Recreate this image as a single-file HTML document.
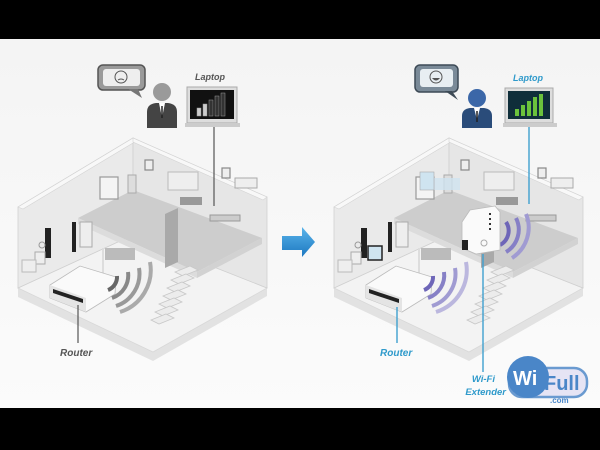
<!DOCTYPE html>
<html><head><meta charset="utf-8"><style>
html,body{margin:0;padding:0;background:#000;}
svg{display:block;}
text{font-family:"Liberation Sans",sans-serif;font-weight:bold;font-style:italic;}
text.n{font-style:normal;}
</style></head><body>
<svg width="600" height="450" viewBox="0 0 600 450" xmlns="http://www.w3.org/2000/svg">
<defs>
<linearGradient id="bg" x1="0" y1="0" x2="0" y2="1"><stop offset="0" stop-color="#f4f4f4"/><stop offset="1" stop-color="#fbfbfb"/></linearGradient>
<linearGradient id="arr" x1="0" y1="0" x2="0" y2="1"><stop offset="0" stop-color="#5ab4ea"/><stop offset="1" stop-color="#1d78c1"/></linearGradient>
<g id="house">
  <polygon points="18,288 153,352 267,288 267,296 153,361 18,297" fill="#e2e2e2"/>
  <polygon points="18,288 133,235 267,288 153,352" fill="#f3f3f3" stroke="#d8d8d8" stroke-width="0.8"/>
  <polygon points="18,207 133,138 133,235 18,288" fill="#eaeaea" stroke="#d0d0d0" stroke-width="0.8"/>
  <polygon points="133,138 267,197 267,288 133,235" fill="#e6e6e6" stroke="#d0d0d0" stroke-width="0.8"/>
  <polygon points="18,207 133,138 138,140 23,209" fill="#f8f8f8" stroke="#d4d4d4" stroke-width="0.6"/>
  <polygon points="133,138 267,197 263,200 133,142" fill="#f8f8f8" stroke="#d4d4d4" stroke-width="0.6"/>
  <polygon points="78,218 133,190 262,238 197,272" fill="#cdcdcd"/>
  <polygon points="78,218 197,272 197,278 78,224" fill="#dcdcdc"/>
  <polygon points="197,272 262,238 262,244 197,278" fill="#d2d2d2"/>
  <polygon points="165,214 178,208 178,262 165,268" fill="#a9a9a9"/>
  <rect x="100" y="177" width="18" height="22" fill="#f4f4f4" stroke="#999" stroke-width="1.2"/>
  <rect x="145" y="160" width="8" height="10" fill="#eee" stroke="#888" stroke-width="1.2"/>
  <rect x="128" y="175" width="8" height="18" fill="#ddd" stroke="#aaa"/>
  <rect x="168" y="172" width="30" height="18" fill="#eee" stroke="#bbb"/>
  <rect x="180" y="197" width="22" height="8" fill="#999"/>
  <rect x="222" y="168" width="8" height="10" fill="#eee" stroke="#888" stroke-width="1.2"/>
  <rect x="235" y="178" width="22" height="10" fill="#eee" stroke="#aaa"/>
  <rect x="210" y="215" width="30" height="6" fill="#ccc" stroke="#999"/>
  <rect x="45" y="228" width="6" height="30" fill="#222"/><rect x="72" y="222" width="4" height="30" fill="#222"/>
  <rect x="80" y="222" width="12" height="25" fill="#eee" stroke="#aaa"/>
  <rect x="35" y="252" width="10" height="12" fill="#eee" stroke="#aaa"/>
  <rect x="22" y="260" width="14" height="12" fill="#eee" stroke="#bbb"/>
  <circle cx="42" cy="245" r="3" fill="none" stroke="#999"/>
  <rect x="105" y="248" width="30" height="12" fill="#bbb"/>
  <g fill="#ececec" stroke="#c8c8c8" stroke-width="0.8">
    <polygon points="175,272 190,266 198,270 183,276"/>
    <polygon points="171,280 186,274 194,278 179,284"/>
    <polygon points="167,288 182,282 190,286 175,292"/>
    <polygon points="163,296 178,290 186,294 171,300"/>
    <polygon points="159,304 174,298 182,302 167,308"/>
    <polygon points="155,312 170,306 178,310 163,316"/>
    <polygon points="151,320 166,314 174,318 159,324"/>
  </g>
</g>
<g id="routerShape">
  <line x1="103" y1="248" x2="103" y2="282" stroke="#ddd" stroke-width="2"/>
  <polygon points="50,285 80,266 116,277 115,294 86,312 50,298" fill="#fafafa" stroke="#bbb" stroke-width="0.8"/>
  <polygon points="50,285 86,298 86,312 50,298" fill="#e4e4e4"/>
  <polygon points="53,289 83,299 83,303 53,293" fill="#222"/>
</g>
</defs>
<rect x="0" y="39" width="600" height="369" fill="url(#bg)"/>

<use href="#house"/>
<use href="#routerShape"/>
<g fill="none" stroke="#666" stroke-linecap="butt">
  <path d="M108 290 A14 14 0 0 0 117 276" stroke-width="4"/>
  <path d="M112 298 A24 24 0 0 0 128 272" stroke-width="4" stroke="#888"/>
  <path d="M116 306 A34 34 0 0 0 139 268" stroke-width="4" stroke="#999"/>
  <path d="M120 312 A44 44 0 0 0 150 262" stroke-width="4" stroke="#aaa"/>
</g>
<line x1="78" y1="305" x2="78" y2="343" stroke="#555" stroke-width="1.2"/>
<text x="60" y="356" font-size="10" fill="#555">Router</text>
<line x1="214" y1="127" x2="214" y2="206" stroke="#555" stroke-width="1.2"/>
<rect x="98" y="65" width="47" height="25" rx="5" fill="#9a9a9a" stroke="#555" stroke-width="1.5"/>
<rect x="103" y="69" width="37" height="17" rx="3" fill="#eee"/>
<polygon points="128,89 138,89 142,98" fill="#777"/>
<circle cx="121" cy="77" r="6" fill="none" stroke="#555"/>
<path d="M118 80 Q121 78 124 80" fill="none" stroke="#555"/>
<circle cx="162" cy="92" r="9" fill="#9a9a9a"/>
<path d="M147 128 L147 112 Q147 104 156 103 L168 103 Q177 104 177 112 L177 128 Z" fill="#444"/>
<polygon points="159,103 165,103 162,118" fill="#fff"/><line x1="162" y1="106" x2="162" y2="118" stroke="#222" stroke-width="1.5"/>
<text x="195" y="80" font-size="9" fill="#555">Laptop</text>
<rect x="187" y="87" width="50" height="36" fill="#ddd" stroke="#aaa"/>
<rect x="190" y="90" width="44" height="29" fill="#111"/>
<rect x="185" y="123" width="55" height="4" fill="#ccc"/>
<g fill="#ccc" stroke="#999" stroke-width="0.5"><rect x="197" y="108" width="4" height="8"/><rect x="203" y="104" width="4" height="12"/><rect x="209" y="100" width="4" height="16" fill="#333"/><rect x="215" y="96" width="4" height="20" fill="#333"/><rect x="221" y="93" width="4" height="23" fill="#333"/></g>

<polygon points="282,236 302,236 302,227 315,242 302,257 302,250 282,250" fill="url(#arr)"/>

<g transform="translate(316,0)">
<use href="#house"/>
<use href="#routerShape"/>
</g>
<rect x="430" y="178" width="30" height="12" fill="#cfe4f0" opacity="0.8"/>
<rect x="420" y="172" width="14" height="18" fill="#cfe4f0" stroke="#aaa" stroke-width="0.6"/>
<rect x="368" y="246" width="14" height="14" fill="#cfe4f0" stroke="#222" stroke-width="1.5"/>
<g fill="none" stroke-linecap="butt">
  <path d="M424 290 A14 14 0 0 0 433 276" stroke-width="4" stroke="#6e66b8"/>
  <path d="M428 298 A24 24 0 0 0 444 272" stroke-width="4" stroke="#8680c6"/>
  <path d="M432 306 A34 34 0 0 0 455 268" stroke-width="4" stroke="#a09bd2"/>
  <path d="M436 312 A44 44 0 0 0 466 262" stroke-width="4" stroke="#bbb7de"/>
  <path d="M500 245 A16 16 0 0 0 506 222" stroke-width="4" stroke="#6e66b8"/>
  <path d="M506 252 A26 26 0 0 0 516 218" stroke-width="4" stroke="#8680c6"/>
  <path d="M512 258 A36 36 0 0 0 526 214" stroke-width="4" stroke="#a09bd2"/>
</g>
<polygon points="470,210 495,206 500,212 500,250 476,254 462,248 462,222" fill="#fafafa" stroke="#bbb" stroke-width="0.8"/>
<rect x="462" y="240" width="6" height="10" fill="#222"/>
<circle cx="484" cy="243" r="3" fill="none" stroke="#aaa"/>
<g fill="#333"><rect x="489" y="213" width="2" height="2"/><rect x="489" y="218" width="2" height="2"/><rect x="489" y="223" width="2" height="2"/><rect x="489" y="228" width="2" height="2"/></g>
<line x1="397" y1="307" x2="397" y2="343" stroke="#3fa0cf" stroke-width="1.4"/>
<text x="380" y="356" font-size="10" fill="#2f9acb">Router</text>
<line x1="483" y1="254" x2="483" y2="372" stroke="#3fa0cf" stroke-width="1.4"/>
<text x="495" y="382" font-size="9.5" fill="#2f9acb" text-anchor="end">Wi-Fi</text>
<text x="506" y="395" font-size="9.5" fill="#2f9acb" text-anchor="end">Extender</text>
<line x1="529" y1="127" x2="529" y2="204" stroke="#3fa0cf" stroke-width="1.4"/>
<rect x="415" y="65" width="43" height="27" rx="5" fill="#7a8a98" stroke="#3d4a56" stroke-width="1.5"/>
<rect x="420" y="69" width="33" height="18" rx="3" fill="#e8eef2"/>
<polygon points="445,91 452,91 458,100" fill="#3d4a56"/>
<circle cx="436" cy="77" r="6" fill="none" stroke="#555"/>
<path d="M432 78 Q436 83 440 78 Z" fill="#555"/>
<circle cx="477" cy="98" r="9" fill="#3b67a8"/>
<path d="M462 128 L462 116 Q462 109 470 108 L484 108 Q492 109 492 116 L492 128 Z" fill="#2a4c7a"/>
<polygon points="474,108 480,108 477,120" fill="#fff"/><line x1="477" y1="111" x2="477" y2="122" stroke="#222" stroke-width="1.5"/>
<text x="513" y="81" font-size="9" fill="#2f9acb">Laptop</text>
<rect x="505" y="88" width="48" height="35" fill="#ddd" stroke="#aaa"/>
<rect x="508" y="91" width="42" height="28" fill="#0f2e3a"/>
<rect x="503" y="123" width="54" height="4" fill="#ccc"/>
<g fill="#6bc23c"><rect x="515" y="109" width="4" height="7"/><rect x="521" y="105" width="4" height="11"/><rect x="527" y="101" width="4" height="15"/><rect x="533" y="97" width="4" height="19"/><rect x="539" y="94" width="4" height="22"/></g>
<rect x="509" y="368" width="78" height="29" rx="13" fill="#e6e4f4" stroke="#6a9ad0" stroke-width="2.5"/>
<circle cx="528" cy="377" r="21" fill="#4a86c8"/>
<text class="n" x="513" y="385" font-size="20" fill="#fff">Wi</text>
<text class="n" x="544" y="390" font-size="20" fill="#4a86c8">Full</text>
<text class="n" x="550" y="403" font-size="8" fill="#4a86c8">.com</text>
</svg>
</body></html>
